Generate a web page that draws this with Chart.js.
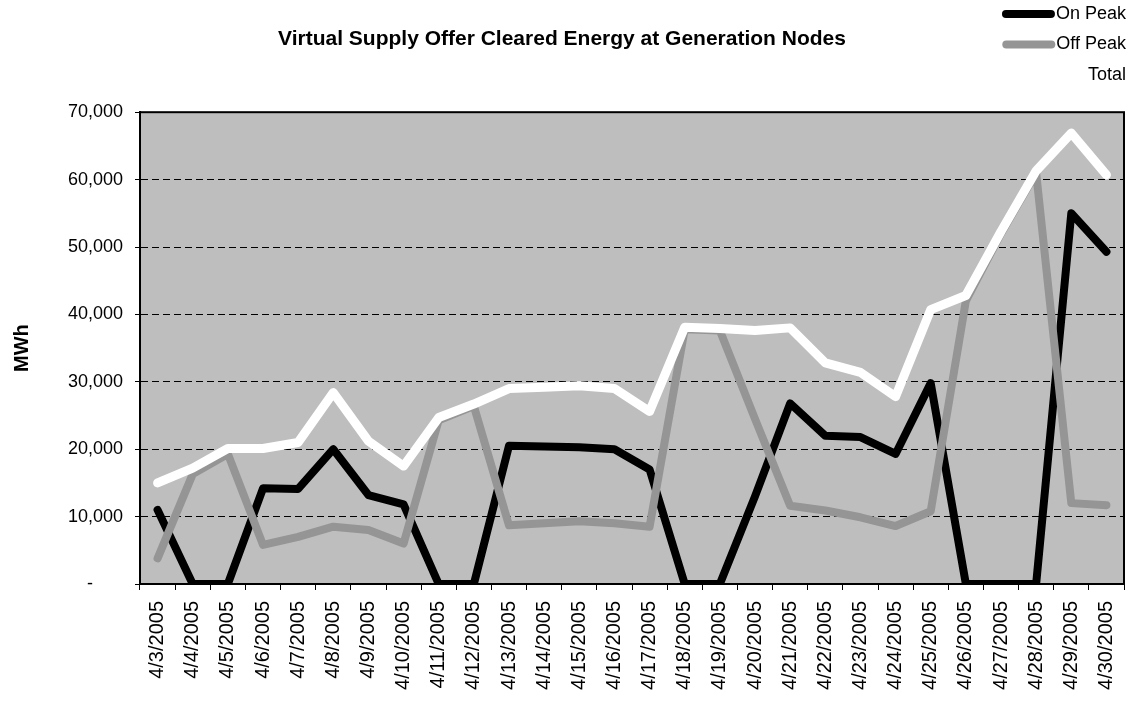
<!DOCTYPE html>
<html>
<head>
<meta charset="utf-8">
<title>Virtual Supply Offer Cleared Energy at Generation Nodes</title>
<script src="https://cdn.jsdelivr.net/npm/chart.js@4.4.0/dist/chart.umd.min.js"></script>
<style>
    html, body { margin: 0; padding: 0; background: #fff; }
    #wrap { width: 1147px; height: 702px; }
</style>
</head>
<body>
<div id="wrap"><canvas id="energyChart" width="1147" height="702"></canvas></div>
<script>
const dates = ['4/3/2005', '4/4/2005', '4/5/2005', '4/6/2005', '4/7/2005', '4/8/2005', '4/9/2005',
    '4/10/2005', '4/11/2005', '4/12/2005', '4/13/2005', '4/14/2005', '4/15/2005', '4/16/2005',
    '4/17/2005', '4/18/2005', '4/19/2005', '4/20/2005', '4/21/2005', '4/22/2005', '4/23/2005',
    '4/24/2005', '4/25/2005', '4/26/2005', '4/27/2005', '4/28/2005', '4/29/2005', '4/30/2005'];

// MWh
const onPeak = [11000, 0, 0, 14200, 14100, 20000, 13200, 11800, 0, 0, 20500, 20400, 20300, 20000,
    17000, 0, 0, 13000, 26800, 22000, 21800, 19300, 29800, 0, 0, 0, 55000, 49300];
const offPeak = [3800, 16300, 19300, 5800, 7000, 8500, 8000, 6000, 24300, 26400, 8700, 9000, 9300, 9000,
    8500, 37800, 37600, 24500, 11600, 10900, 9900, 8600, 10800, 42000, 52000, 61000, 12000, 11700];
const total = [15000, 17200, 20100, 20100, 21000, 28400, 21200, 17500, 24700, 26700, 29000, 29200, 29400, 29000,
    25600, 38100, 37900, 37600, 38000, 32800, 31400, 27800, 40700, 42800, 52300, 61300, 66900, 60700];

const yMax = 70000;
const yStep = 10000;

const fontFamily = '"Liberation Sans", Arial, sans-serif';

// grey plot area + black frame
const plotFrame = {
    id: 'plotFrame',
    beforeDraw: function(chart) {
        const ctx = chart.ctx, a = chart.chartArea;
        ctx.save();
        ctx.fillStyle = '#bebebe';
        ctx.fillRect(a.left, a.top, a.right - a.left, a.bottom - a.top);
        ctx.restore();
    },
    afterDraw: function(chart) {
        const ctx = chart.ctx, a = chart.chartArea;
        ctx.save();
        ctx.strokeStyle = '#000';
        ctx.lineWidth = 2;
        ctx.strokeRect(a.left, a.top, a.right - a.left, a.bottom - a.top);
        ctx.restore();
    }
};

// legend stacked in the top right corner
const cornerLegend = {
    id: 'cornerLegend',
    afterDraw: function(chart) {
        const ctx = chart.ctx;
        ctx.save();
        ctx.font = '18px ' + fontFamily;
        ctx.textAlign = 'right';
        ctx.textBaseline = 'middle';
        chart.data.datasets.forEach(function(ds, i) {
            const y = 14 + i * 30.5;
            const x = 1126;
            const w = ctx.measureText(ds.label).width;
            ctx.strokeStyle = ds.borderColor;
            ctx.lineWidth = 8;
            ctx.lineCap = 'round';
            ctx.beginPath();
            ctx.moveTo(x - w - 50, y);
            ctx.lineTo(x - w - 5, y);
            ctx.stroke();
            ctx.fillStyle = '#000';
            ctx.fillText(ds.label, x, y);
        });
        ctx.restore();
    }
};

const chartApp = {
    variables: {
        canvasChart: null,
        energyChart: null
    },
    setUp: function(canvasID) {
        chartApp.variables.canvasChart = document.getElementById(canvasID).getContext('2d');
    },
    createChart: function() {
        chartApp.variables.energyChart = new Chart(chartApp.variables.canvasChart, {
            type: 'line',
            data: {
                labels: dates,
                datasets: [{
                    label: 'On Peak',
                    data: onPeak,
                    borderColor: '#000000',
                    borderWidth: 8,
                    order: 3
                }, {
                    label: 'Off Peak',
                    data: offPeak,
                    borderColor: '#959595',
                    borderWidth: 8,
                    order: 2
                }, {
                    label: 'Total',
                    data: total,
                    borderColor: '#ffffff',
                    borderWidth: 9,
                    order: 1
                }]
            },
            options: {
                responsive: false,
                animation: false,
                devicePixelRatio: 1,
                layout: { padding: { left: 0, right: 23, top: 0, bottom: 0 } },
                elements: {
                    point: { radius: 0 },
                    line: { tension: 0, borderJoinStyle: 'round', borderCapStyle: 'round', fill: false }
                },
                plugins: {
                    legend: { display: false },
                    tooltip: { enabled: false },
                    title: {
                        display: true,
                        text: 'Virtual Supply Offer Cleared Energy at Generation Nodes',
                        color: '#000',
                        font: { family: fontFamily, size: 21, weight: 'bold' },
                        padding: { top: 27, bottom: 60 }
                    }
                },
                scales: {
                    x: {
                        type: 'category',
                        offset: true,
                        grid: { display: true, drawOnChartArea: false, drawTicks: true, tickLength: 6, color: '#000', offset: true },
                        border: { display: true, color: '#000', width: 2 },
                        ticks: {
                            autoSkip: false,
                            maxRotation: 90,
                            minRotation: 90,
                            padding: 11,
                            color: '#000',
                            font: { family: fontFamily, size: 20 }
                        },
                        afterFit: function(axis) { axis.height = 118; }
                    },
                    y: {
                        min: 0,
                        max: yMax,
                        ticks: {
                            stepSize: yStep,
                            padding: 12,
                            color: '#000',
                            font: { family: fontFamily, size: 18 },
                            callback: function(v) { return v === 0 ? '-      ' : v.toLocaleString('en-US'); }
                        },
                        grid: { color: '#000', lineWidth: 1, tickLength: 5, drawTicks: true, tickBorderDash: [] },
                        border: { display: true, color: '#000', width: 2, dash: [7, 4] },
                        title: {
                            display: true,
                            text: 'MWh',
                            color: '#000',
                            font: { family: fontFamily, size: 20, weight: 'bold' },
                            padding: { top: 10, bottom: 0 }
                        },
                        afterFit: function(axis) { axis.width = 140; }
                    }
                }
            },
            plugins: [plotFrame, cornerLegend]
        });
    }
};

chartApp.setUp('energyChart');
chartApp.createChart();
</script>
</body>
</html>
